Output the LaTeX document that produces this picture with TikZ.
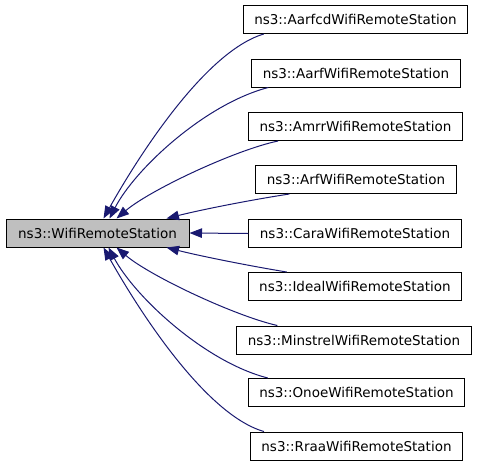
\documentclass[tikz,border=0pt]{standalone}
\usepackage{fontspec}
\setmainfont{DejaVu Sans}
\usetikzlibrary{arrows.meta}
\definecolor{edgeblue}{HTML}{191970}
\definecolor{basegray}{HTML}{BFBFBF}
\begin{document}
\begin{tikzpicture}[x=1pt,y=-1pt,
  cls/.style={draw=black,line width=1pt,minimum height=28pt,inner xsep=11pt,inner ysep=0pt,
    font=\fontsize{13.5}{16}\selectfont},
  edge/.style={draw=edgeblue,line width=1pt,-{Triangle[length=12.5pt,width=9.5pt]}}]
\useasboundingbox (0,0) rectangle (480,467);
\node[cls,fill=basegray,minimum width=183pt] (base) at (97.5,233) {ns3::WifiRemoteStation};
\node[cls] (aarfcd) at (355.5,19.5) {ns3::AarfcdWifiRemoteStation};
\node[cls] (aarf) at (356,73) {ns3::AarfWifiRemoteStation};
\node[cls] (amrr) at (355.5,126.5) {ns3::AmrrWifiRemoteStation};
\node[cls] (arf) at (356,179.5) {ns3::ArfWifiRemoteStation};
\node[cls] (cara) at (355,233.5) {ns3::CaraWifiRemoteStation};
\node[cls] (ideal) at (355,286.5) {ns3::IdealWifiRemoteStation};
\node[cls] (minstrel) at (354,340) {ns3::MinstrelWifiRemoteStation};
\node[cls] (onoe) at (356.5,392.5) {ns3::OnoeWifiRemoteStation};
\node[cls] (rraa) at (356.5,446) {ns3::RraaWifiRemoteStation};
% upper edges
\draw[edge] ([xshift=21pt]aarfcd.south west) .. controls (203,52) and (134,164) .. ([xshift=98pt]base.north west);
\draw[edge] ([xshift=17pt]aarf.south west) .. controls (205,104) and (135,169) .. ([xshift=104pt]base.north west);
\draw[edge] ([xshift=30pt]amrr.south west) .. controls (235,150) and (150,190) .. ([xshift=111pt]base.north west);
\draw[edge] ([xshift=34pt]arf.south west) .. controls (250,200) and (200,210) .. ([xshift=161pt]base.north west);
\draw[edge] (cara.west) -- (base.east);
% lower edges
\draw[edge] ([xshift=39pt]ideal.north west) .. controls (250,266) and (200,256) .. ([xshift=161pt]base.south west);
\draw[edge] ([xshift=41pt]minstrel.north west) .. controls (235,316) and (150,276) .. ([xshift=111pt]base.south west);
\draw[edge] ([xshift=20pt]onoe.north west) .. controls (205,362) and (135,297) .. ([xshift=103pt]base.south west);
\draw[edge] ([xshift=14pt]rraa.north west) .. controls (203,414) and (134,302) .. ([xshift=98pt]base.south west);
\end{tikzpicture}
\end{document}
